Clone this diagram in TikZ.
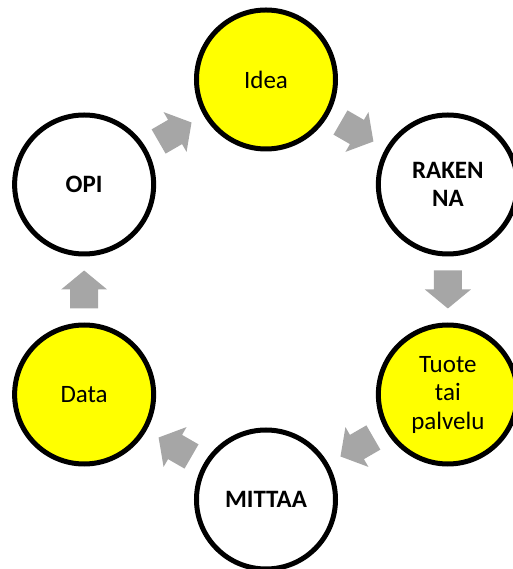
\documentclass[tikz,border=0pt]{standalone}
\usepackage{fontspec}
\setmainfont{Carlito}
\usetikzlibrary{calc}
\definecolor{cycleyellow}{HTML}{FFFF00}
\definecolor{arrowgray}{HTML}{A6A6A6}
\tikzset{
  x=1pt, y=1pt,
  stage/.style={circle, draw=black, line width=5pt, minimum size=139pt,
    inner sep=0pt, align=center, font=\fontsize{25}{28.5}\selectfont},
  hot/.style={stage, fill=cycleyellow},
  cold/.style={stage, fill=white, font=\fontsize{25}{28.5}\selectfont\bfseries},
  blockarrow/.pic={
    \fill[arrowgray] (-19,-14) -- (0,-14) -- (0,-23) -- (19,0) -- (0,23)
      -- (0,14) -- (-19,14) -- cycle;
  }
}
\begin{document}
\begin{tikzpicture}
\useasboundingbox (-266,-279.5) rectangle (246,289.5);
% six stages on a hexagon, clockwise from the top
\node[hot]  (idea)   at (90:210)   {Idea};
\node[cold] (rakenna) at (30:210)  {RAKEN\\NA};
\node[hot]  (tuote)  at (-30:210)  {Tuote\\tai\\palvelu};
\node[cold] (mittaa) at (-90:210)  {MITTAA};
\node[hot]  (data)   at (-150:210) {Data};
\node[cold] (opi)    at (150:210)  {OPI};
% block arrows halfway between neighbouring stages
\pic[rotate=-30]  at ($(idea)!0.5!(rakenna)$)  {blockarrow};
\pic[rotate=-90]  at ($(rakenna)!0.5!(tuote)$) {blockarrow};
\pic[rotate=-150] at ($(tuote)!0.5!(mittaa)$)  {blockarrow};
\pic[rotate=150]  at ($(mittaa)!0.5!(data)$)   {blockarrow};
\pic[rotate=90]   at ($(data)!0.5!(opi)$)      {blockarrow};
\pic[rotate=30]   at ($(opi)!0.5!(idea)$)      {blockarrow};
\end{tikzpicture}
\end{document}
